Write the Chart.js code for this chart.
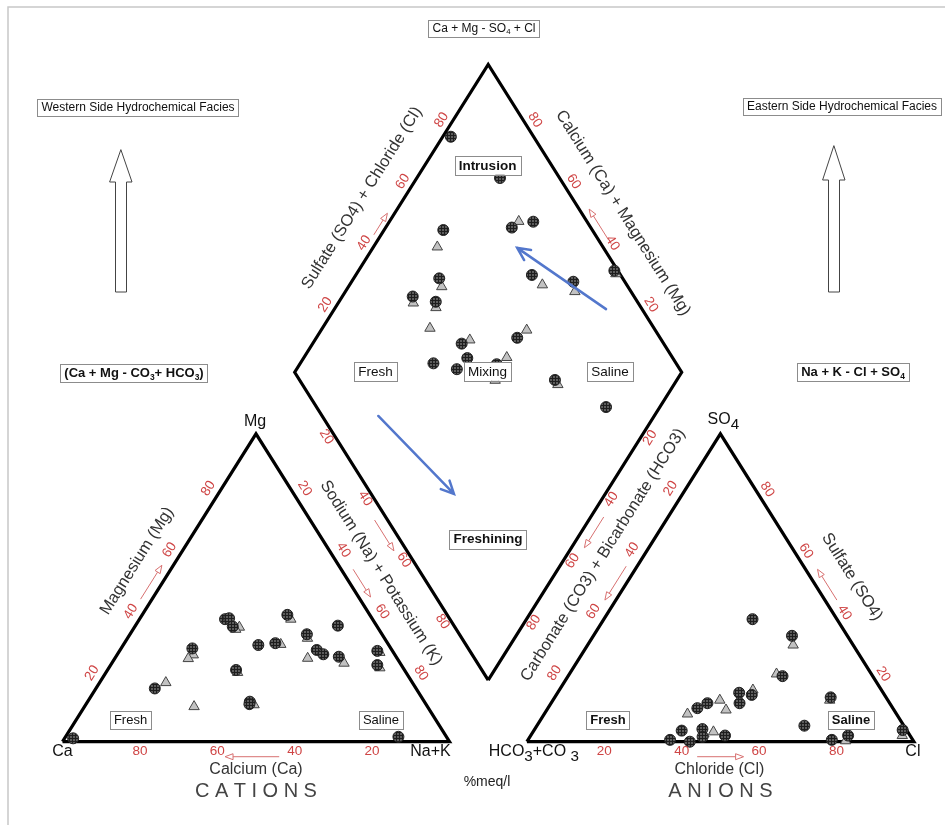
<!DOCTYPE html>
<html>
<head>
<meta charset="utf-8">
<script src="https://cdn.jsdelivr.net/npm/chart.js@4.4.0/dist/chart.umd.min.js"></script>
<style>
  html, body { margin: 0; padding: 0; background: #fff; }
  canvas { display: block; }
</style>
</head>
<body>
<canvas id="piper" width="945" height="825"></canvas>
<script>
// Piper diagram, % meq/l values

// cation triangle samples: [Mg, Na+K]
const cationCircles = [
  [1.1, 2.2], [39.8, 22.1], [40.1, 23.0], [37.4, 25.3], [41.2, 37.5], [30.3, 18.4],
  [31.4, 34.9], [32.0, 39.0], [34.9, 45.7], [37.7, 52.3], [29.8, 50.8], [28.4, 53.2],
  [27.6, 57.6], [29.5, 66.6], [24.9, 68.9], [23.3, 33.2], [17.3, 15.2], [13.0, 41.9],
  [12.2, 42.2], [1.6, 86.0]
];
const cationTriangles = [
  [19.2, 17.1], [11.4, 28.3], [28.2, 19.7], [37.2, 27.1], [31.6, 40.6], [27.1, 49.8],
  [25.5, 60.0], [39.8, 39.1], [33.6, 46.5], [12.0, 43.5], [24.0, 70.0], [22.5, 34.0],
  [27.0, 19.0], [29.0, 67.5], [36.5, 26.5]
];

// anion triangle samples: [SO4, Cl]
const anionCircles = [
  [39.8, 38.4], [34.4, 51.3], [21.3, 55.4], [15.9, 46.9], [12.5, 48.7], [15.2, 50.5],
  [12.5, 40.4], [10.9, 38.6], [14.4, 71.3], [5.2, 69.1], [3.6, 38.2], [4.1, 43.3],
  [1.6, 44.6], [2.0, 50.2], [0.6, 36.7], [0.0, 42.1], [2.0, 82.0], [0.6, 78.5],
  [3.8, 95.2]
];
const anionTriangles = [
  [31.4, 53.1], [22.0, 53.5], [13.5, 43.1], [10.3, 46.3], [16.8, 50.0], [3.2, 46.6],
  [0.3, 82.2], [2.0, 96.0], [9.0, 37.0], [13.5, 71.5], [2.5, 44.5]
];

// diamond samples: [Ca+Mg, SO4+Cl]
const diamondCircles = [
  [97.9, 78.6], [78.5, 84.6], [84.7, 61.5], [67.4, 79.6], [62.8, 86.1], [77.9, 52.6],
  [54.5, 77.1], [42.7, 86.7], [33.9, 99.1], [81.8, 42.8], [75.0, 47.9], [48.1, 63.1],
  [61.5, 47.8], [57.7, 46.9], [65.6, 37.3], [58.6, 42.4], [49.1, 53.5], [48.5, 51.1],
  [31.5, 66.0], [13.9, 74.8]
];
const diamondTriangles = [
  [66.6, 82.4], [83.5, 57.2], [75.9, 51.9], [50.2, 78.2], [40.7, 85.5], [72.2, 42.1],
  [60.0, 50.5], [46.9, 66.8], [47.6, 57.2], [80.6, 41.9], [74.0, 47.0], [46.9, 50.5],
  [33.0, 99.0], [30.0, 66.0], [48.0, 52.0]
];

const tickValues = [20, 40, 60, 80];

// ternary -> diagram units (triangle side 100, gap 20)
const SQ = Math.sqrt(3) / 2;
const GAP = 20;
const cationXY = (mg, nak) => ({ x: nak + mg / 2, y: mg * SQ });
const anionXY = (so4, cl) => ({ x: 100 + GAP + cl + so4 / 2, y: so4 * SQ });
const diamondXY = (camg, so4cl) => ({
  x: 100 + GAP / 2 + (so4cl - camg) / 2,
  y: GAP * SQ + (so4cl + camg) * SQ
});

const FONT = '"Liberation Sans", Arial, sans-serif';
const RED = '#cf4545';
const TITLE = '#333';

function font(size, bold) {
  return (bold ? 'bold ' : '') + size + 'px ' + FONT;
}

// '_' marks the next char as subscript
function parseRich(str) {
  const segs = [];
  for (let i = 0; i < str.length; i++) {
    if (str[i] === '_') {
      segs.push({ t: str[i + 1], sub: true });
      i++;
    } else if (segs.length && !segs[segs.length - 1].sub) {
      segs[segs.length - 1].t += str[i];
    } else {
      segs.push({ t: str[i], sub: false });
    }
  }
  return segs;
}

function richWidth(ctx, str, size, bold, subScale) {
  let w = 0;
  parseRich(str).forEach(s => {
    ctx.font = font(s.sub ? size * subScale : size, bold);
    w += ctx.measureText(s.t).width;
  });
  return w;
}

function drawRich(ctx, str, cx, cy, size, bold, color, subScale = 0.65) {
  const w = richWidth(ctx, str, size, bold, subScale);
  let x = cx - w / 2;
  ctx.textAlign = 'left';
  ctx.textBaseline = 'middle';
  ctx.fillStyle = color;
  parseRich(str).forEach(s => {
    ctx.font = font(s.sub ? size * subScale : size, bold);
    ctx.fillText(s.t, x, s.sub ? cy + size * 0.3 : cy);
    x += ctx.measureText(s.t).width;
  });
  return w;
}

function drawBox(ctx, str, cx, cy, size, bold) {
  const w = richWidth(ctx, str, size, bold, 0.65);
  ctx.fillStyle = '#fff';
  ctx.strokeStyle = '#8c8c8c';
  ctx.lineWidth = 1;
  const h = size + 5;
  ctx.fillRect(cx - w / 2 - 4, cy - h / 2, w + 8, h);
  ctx.strokeRect(Math.round(cx - w / 2 - 4) + 0.5, Math.round(cy - h / 2) + 0.5, Math.round(w + 8), Math.round(h));
  drawRich(ctx, str, cx, cy + 0.5, size, bold, '#111');
}

function rotRich(ctx, str, x, y, ang, size, color) {
  ctx.save();
  ctx.translate(x, y);
  ctx.rotate(ang);
  drawRich(ctx, str, 0, 0, size, false, color);
  ctx.restore();
}

// tick label placements along each edge: anchor, pixel offset, rotation sign
const edgeTicks = [
  { at: v => cationXY(0, 100 - v), dx: 0, dy: 10, rot: 0 },
  { at: v => cationXY(v, 0), dx: -9, dy: -7, rot: -1 },
  { at: v => cationXY(100 - v, v), dx: 10, dy: -7, rot: 1 },
  { at: v => anionXY(0, v), dx: 0, dy: 10, rot: 0 },
  { at: v => anionXY(100 - v, 0), dx: -11, dy: -7, rot: -1 },
  { at: v => anionXY(v, 100 - v), dx: 8, dy: -6, rot: 1 },
  { at: v => diamondXY(100, v), dx: -8, dy: -6, rot: -1 },
  { at: v => diamondXY(v, 100), dx: 8, dy: -6, rot: 1 },
  { at: v => diamondXY(100 - v, 0), dx: -7, dy: 3, rot: 1 },
  { at: v => diamondXY(0, 100 - v), dx: 7, dy: 4, rot: -1 }
];

// small red direction arrows beside the edges
const edgeArrows = [
  { from: cationXY(45, 0), to: cationXY(56, 0), dx: -9, dy: -4 },
  { from: cationXY(56, 44), to: cationXY(47, 53), dx: 12, dy: 0 },
  { from: cationXY(0, 56), to: cationXY(0, 42), dx: 0, dy: 15 },
  { from: anionXY(0, 44), to: anionXY(0, 56), dx: 0, dy: 15 },
  { from: anionXY(46, 54), to: anionXY(56, 44), dx: 12, dy: 0 },
  { from: anionXY(57, 0), to: anionXY(46, 0), dx: -11, dy: 0 },
  { from: diamondXY(52, 0), to: diamondXY(42, 0), dx: -13, dy: 0 },
  { from: diamondXY(0, 53), to: diamondXY(0, 43), dx: 13, dy: 0 },
  { from: diamondXY(100, 44), to: diamondXY(100, 51), dx: -6, dy: -2 },
  { from: diamondXY(43, 100), to: diamondXY(53, 100), dx: 10, dy: 0 }
];

// blue trend arrows in the diamond [Ca+Mg, SO4+Cl]
const trendArrows = [
  { from: diamondXY(29.8, 90.7), to: diamondXY(62.7, 77.7) },
  { from: diamondXY(71.3, 14.5), to: diamondXY(39.1, 21.4) }
];

function hollowArrow(ctx, a, b) {
  const ang = Math.atan2(b.y - a.y, b.x - a.x);
  const L = 8, W = 3;
  const bx = b.x - L * Math.cos(ang), by = b.y - L * Math.sin(ang);
  ctx.strokeStyle = '#d77070';
  ctx.lineWidth = 1;
  ctx.beginPath();
  ctx.moveTo(a.x, a.y);
  ctx.lineTo(bx, by);
  ctx.stroke();
  ctx.fillStyle = '#fff';
  ctx.beginPath();
  ctx.moveTo(b.x, b.y);
  ctx.lineTo(bx + W * Math.sin(ang), by - W * Math.cos(ang));
  ctx.lineTo(bx - W * Math.sin(ang), by + W * Math.cos(ang));
  ctx.closePath();
  ctx.fill();
  ctx.stroke();
}

function blockArrow(ctx, cx, tip, headBase, bottom) {
  ctx.beginPath();
  ctx.moveTo(cx, tip);
  ctx.lineTo(cx + 11, headBase);
  ctx.lineTo(cx + 5.5, headBase);
  ctx.lineTo(cx + 5.5, bottom);
  ctx.lineTo(cx - 5.5, bottom);
  ctx.lineTo(cx - 5.5, headBase);
  ctx.lineTo(cx - 11, headBase);
  ctx.closePath();
  ctx.fillStyle = '#fff';
  ctx.fill();
  ctx.strokeStyle = '#444';
  ctx.lineWidth = 1;
  ctx.stroke();
}

const piperText = {
  id: 'piperText',
  beforeDraw(chart) {
    const ctx = chart.ctx;
    ctx.save();
    ctx.strokeStyle = '#c8c8c8';
    ctx.lineWidth = 1.5;
    ctx.beginPath();
    ctx.moveTo(8, 825);
    ctx.lineTo(8, 7);
    ctx.lineTo(945, 7);
    ctx.stroke();
    ctx.restore();
  },
  afterDatasetsDraw(chart) {
    const ctx = chart.ctx;
    const sx = chart.scales.x, sy = chart.scales.y;
    const P = p => ({ x: sx.getPixelForValue(p.x), y: sy.getPixelForValue(p.y) });
    const ca = P(cationXY(0, 0)), mgApex = P(cationXY(100, 0));
    const A = Math.atan2(mgApex.y - ca.y, mgApex.x - ca.x); // up-right edge angle
    ctx.save();

    // tick numbers
    edgeTicks.forEach(e => {
      tickValues.forEach(v => {
        const p = P(e.at(v));
        rotRich(ctx, String(v), p.x + e.dx, p.y + e.dy, e.rot === 0 ? 0 : (e.rot < 0 ? A : -A), 13.5, RED);
      });
    });

    edgeArrows.forEach(r => {
      const a = P(r.from), b = P(r.to);
      hollowArrow(ctx, { x: a.x + r.dx, y: a.y + r.dy }, { x: b.x + r.dx, y: b.y + r.dy });
    });

    // vertex labels
    const vNa = P(cationXY(0, 100)), vHc = P(anionXY(0, 0)), vCl = P(anionXY(0, 100)), vSo = P(anionXY(100, 0));
    drawRich(ctx, 'Ca', ca.x, ca.y + 10, 16, false, '#111');
    drawRich(ctx, 'Na+K', vNa.x - 19, vNa.y + 10, 16, false, '#111');
    drawRich(ctx, 'Mg', mgApex.x - 1, mgApex.y - 12, 16, false, '#111');
    drawRich(ctx, 'HCO_3+CO _3', vHc.x + 7, vHc.y + 10, 16, false, '#111', 0.95);
    drawRich(ctx, 'Cl', vCl.x - 1, vCl.y + 10, 16, false, '#111');
    drawRich(ctx, 'SO_4', vSo.x + 3, vSo.y - 14, 16, false, '#111', 0.95);

    // axis titles
    const bottomL = P(cationXY(0, 50)), bottomR = P(anionXY(0, 50));
    drawRich(ctx, 'Calcium (Ca)', bottomL.x, bottomL.y + 28, 16, false, TITLE);
    drawRich(ctx, 'Chloride (Cl)', bottomR.x - 1, bottomR.y + 28, 16, false, TITLE);
    rotRich(ctx, 'Magnesium (Mg)', 137, 561, A, 16.5, TITLE);
    rotRich(ctx, 'Sodium (Na) + Potassium (K)', 381, 573, -A, 16.5, TITLE);
    rotRich(ctx, 'Sulfate (SO4) + Chloride (Cl)', 362, 198, A, 16.5, TITLE);
    rotRich(ctx, 'Calcium (Ca) + Magnesium (Mg)', 623, 213, -A, 16.5, TITLE);
    rotRich(ctx, 'Carbonate (CO3) + Bicarbonate (HCO3)', 603, 555, A, 16.5, TITLE);
    rotRich(ctx, 'Sulfate (SO4)', 852, 577, -A, 16.5, TITLE);

    // spaced captions
    const spaced = (str, cx, cy) => {
      ctx.font = font(20, false);
      const gap = 5.5;
      let w = 0;
      for (const ch of str) w += ctx.measureText(ch).width;
      w += gap * (str.length - 1);
      let x = cx - w / 2;
      ctx.fillStyle = '#444';
      ctx.textAlign = 'left';
      ctx.textBaseline = 'middle';
      for (const ch of str) {
        ctx.fillText(ch, x, cy);
        x += ctx.measureText(ch).width + gap;
      }
    };
    spaced('CATIONS', bottomL.x, 791);
    spaced('ANIONS', bottomR.x, 791);
    drawRich(ctx, '%meq/l', 487, 782, 14, false, '#222');

    // blue trend arrows
    ctx.strokeStyle = '#5377cc';
    ctx.lineWidth = 2.5;
    ctx.lineCap = 'round';
    trendArrows.forEach(t => {
      const a = P(t.from), b = P(t.to);
      const ang = Math.atan2(b.y - a.y, b.x - a.x);
      ctx.beginPath();
      ctx.moveTo(a.x, a.y);
      ctx.lineTo(b.x, b.y);
      ctx.moveTo(b.x - 14 * Math.cos(ang - 0.45), b.y - 14 * Math.sin(ang - 0.45));
      ctx.lineTo(b.x, b.y);
      ctx.lineTo(b.x - 14 * Math.cos(ang + 0.45), b.y - 14 * Math.sin(ang + 0.45));
      ctx.stroke();
    });

    // facies boxes
    drawBox(ctx, 'Ca + Mg - SO_4 + Cl', 484, 28, 12, false);
    drawBox(ctx, 'Western Side Hydrochemical Facies', 138, 107, 12, false);
    drawBox(ctx, 'Eastern Side Hydrochemical Facies', 842, 106, 12, false);
    drawBox(ctx, '(Ca + Mg - CO_3+ HCO_3)', 134, 373, 13, true);
    drawBox(ctx, 'Na + K - Cl + SO_4', 853, 372, 13, true);
    drawBox(ctx, 'Intrusion', 487.5, 165.5, 13.5, true);
    drawBox(ctx, 'Fresh', 375.5, 371.5, 13.5, false);
    drawBox(ctx, 'Mixing', 487.5, 371.5, 13.5, false);
    drawBox(ctx, 'Saline', 610, 371.5, 13.5, false);
    drawBox(ctx, 'Freshining', 488, 539, 13.5, true);
    drawBox(ctx, 'Fresh', 130.5, 720, 13, false);
    drawBox(ctx, 'Saline', 381, 720, 13, false);
    drawBox(ctx, 'Fresh', 608, 720, 13, true);
    drawBox(ctx, 'Saline', 851, 720, 13, true);

    blockArrow(ctx, 121, 150, 182, 292);
    blockArrow(ctx, 834, 146, 180, 292);

    ctx.restore();
  }
};

const canvas = document.getElementById('piper');
const ctx0 = canvas.getContext('2d');

function hatch() {
  const c = document.createElement('canvas');
  c.width = 3;
  c.height = 3;
  const g = c.getContext('2d');
  g.fillStyle = '#5c5c5c';
  g.fillRect(0, 0, 3, 3);
  g.fillStyle = '#1e1e1e';
  g.fillRect(0, 0, 3, 1);
  g.fillRect(0, 0, 1, 3);
  return ctx0.createPattern(c, 'repeat');
}

const circlePts = [
  ...cationCircles.map(p => cationXY(p[0], p[1])),
  ...anionCircles.map(p => anionXY(p[0], p[1])),
  ...diamondCircles.map(p => diamondXY(p[0], p[1]))
];
const trianglePts = [
  ...cationTriangles.map(p => cationXY(p[0], p[1])),
  ...anionTriangles.map(p => anionXY(p[0], p[1])),
  ...diamondTriangles.map(p => diamondXY(p[0], p[1]))
];

const outline = pts => ({
  data: pts,
  showLine: true,
  borderColor: '#000',
  borderWidth: 3.2,
  borderJoinStyle: 'miter',
  pointRadius: 0,
  fill: false,
  order: 3
});

new Chart(canvas, {
  type: 'scatter',
  data: {
    datasets: [
      {
        data: circlePts,
        pointStyle: 'circle',
        pointRadius: 5.5,
        backgroundColor: hatch(),
        borderColor: '#222',
        borderWidth: 1,
        order: 1
      },
      {
        data: trianglePts,
        pointStyle: 'triangle',
        pointRadius: 6,
        backgroundColor: '#c2c2c2',
        borderColor: '#444',
        borderWidth: 1,
        order: 2
      },
      outline([cationXY(0, 0), cationXY(0, 100), cationXY(100, 0), cationXY(0, 0)]),
      outline([anionXY(0, 0), anionXY(0, 100), anionXY(100, 0), anionXY(0, 0)]),
      outline([diamondXY(0, 0), diamondXY(0, 100), diamondXY(100, 100), diamondXY(100, 0), diamondXY(0, 0)])
    ]
  },
  options: {
    responsive: false,
    animation: false,
    devicePixelRatio: 1,
    events: [],
    layout: { padding: 0, autoPadding: false },
    plugins: { legend: { display: false }, tooltip: { enabled: false } },
    scales: {
      x: { type: 'linear', display: false, min: -16.15, max: 228.04 },
      y: { type: 'linear', display: false, min: -23.43, max: 208.64 }
    }
  },
  plugins: [piperText]
});
</script>
</body>
</html>
